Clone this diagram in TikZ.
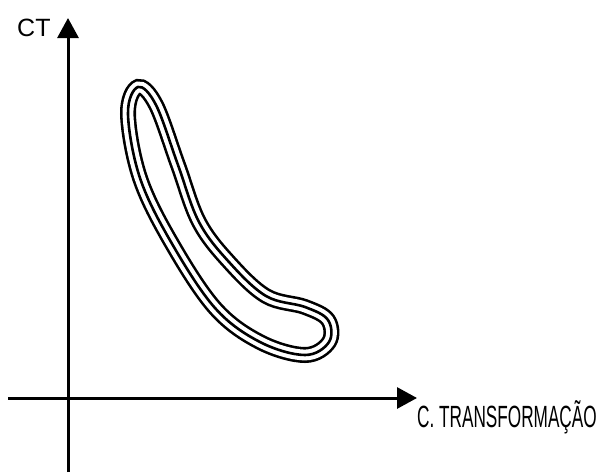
\documentclass[tikz,border=0pt]{standalone}
\usepackage{fontspec}
\setmainfont{Liberation Sans}
\usetikzlibrary{arrows.meta}
\tikzset{
  axis/.style={line width=3pt, -{Triangle[length=20pt,width=21pt]}},
  lbl/.style={inner sep=0pt, anchor=base west},
}
\def\banana{plot[smooth cycle, tension=0.6] coordinates {
  (138,87) (128,114) (140,178) (171,242) (215,308) (260,342) (305,355)
  (329,342) (328,320) (305,307) (266,296) (229,262) (199,222) (178,165) (156,105)}}
\begin{document}
\begin{tikzpicture}[x=1pt, y=-1pt]
  \useasboundingbox (0,0) rectangle (598,472);
  \coordinate (ytop) at (68,18);
  \coordinate (ybot) at (68,472);
  \coordinate (xleft) at (8,398);
  \coordinate (xright) at (417,398);
  \draw[axis] (ybot) -- (ytop);
  \draw[axis] (xleft) -- (xright);
  \node[lbl, font=\fontsize{25}{25}\selectfont] (ct) at (17,36) {CT};
  \node[lbl, font=\fontsize{30.7}{30}\selectfont] (ctr) at (417,427) {\scalebox{0.56}[1]{C. TRANSFORMAÇÃO}};
  \draw[line width=16pt, black] \banana;
  \draw[line width=10.8pt, white] \banana;
  \draw[line width=2.6pt, black] \banana;
\end{tikzpicture}
\end{document}
